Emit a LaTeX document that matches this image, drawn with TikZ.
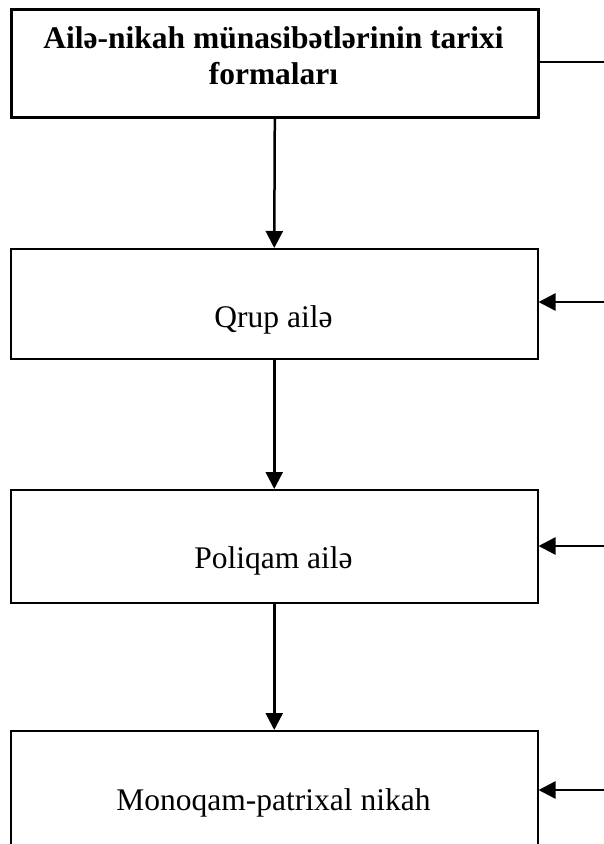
\documentclass[tikz,border=0pt]{standalone}
\usepackage{fontspec}
\setmainfont{Liberation Serif}
\usetikzlibrary{arrows.meta}
\tikzset{
  box/.style={draw=black, line width=1.5pt, minimum width=527pt, inner sep=0pt, anchor=north west},
  titlebox/.style={box, line width=2.6pt},
  lbl/.style={font=\fontsize{31.5}{36}\selectfont, inner sep=0pt, anchor=base},
  conn/.style={line width=2.5pt, -{Triangle[length=17pt,width=17pt]}},
  plain/.style={line width=2.5pt}
}
\begin{document}
\begin{tikzpicture}[x=1pt,y=-1pt]
\useasboundingbox (0,0) rectangle (604,844);
\node[titlebox, minimum height=108pt] (b1) at (10,8) {};
\node[box, minimum height=110pt] (b2) at (10,248) {};
\node[box, minimum height=113pt] (b3) at (10,489) {};
\node[box, minimum height=140pt] (b4) at (10,730) {};
\node[lbl, font=\fontsize{31.5}{36}\selectfont\bfseries, align=center, anchor=base] (t1) at (273.5,84) {Ailə-nikah münasibətlərinin tarixi\\formaları};
\node[lbl] (t2) at (273.5,327) {Qrup ailə};
\node[lbl] (t3) at (273.5,568) {Poliqam ailə};
\node[lbl] (t4) at (273.5,810) {Monoqam-patrixal nikah};
\coordinate (r1) at (604,62);
\coordinate (r2) at (604,302);
\coordinate (r3) at (604,546);
\coordinate (r4) at (604,790);
\draw[conn] (b1.south) -- (b2.north);
\draw[conn] (b2.south) -- (b3.north);
\draw[conn] (b3.south) -- (b4.north);
\draw[plain] (b1.east |- r1) -- (r1);
\draw[conn] (r2) -- (b2.east |- r2);
\draw[conn] (r3) -- (b3.east |- r3);
\draw[conn] (r4) -- (b4.east |- r4);
\end{tikzpicture}
\end{document}
